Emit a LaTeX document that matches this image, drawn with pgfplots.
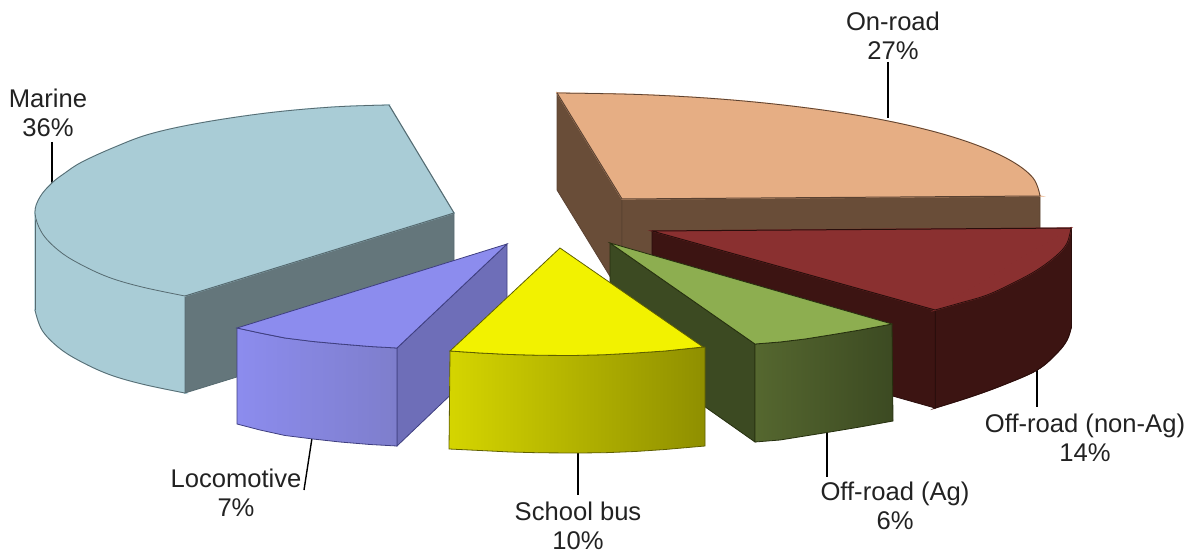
\documentclass[border=0pt]{standalone}
\usepackage{pgfplots}
\pgfplotsset{compat=1.18}
\usepackage{fontspec}
\setmainfont{Liberation Sans}
\definecolor{mT}{HTML}{A9CCD6}\definecolor{mD}{HTML}{64767B}\definecolor{mE}{HTML}{566A70}
\definecolor{oT}{HTML}{E6AE84}\definecolor{oD}{HTML}{694D38}\definecolor{oE}{HTML}{5A4232}
\definecolor{rT}{HTML}{8A3030}\definecolor{rD}{HTML}{3C1412}\definecolor{rE}{HTML}{2A0E0C}
\definecolor{lT}{HTML}{8C8CEE}\definecolor{lG}{HTML}{7E7ECC}\definecolor{lD}{HTML}{6E6EB8}\definecolor{lE}{HTML}{3F3F80}
\definecolor{yT}{HTML}{F2F200}\definecolor{yA}{HTML}{D5D500}\definecolor{yB}{HTML}{8F8F00}\definecolor{yE}{HTML}{5F5F00}
\definecolor{gT}{HTML}{8DAE50}\definecolor{gA}{HTML}{55672F}\definecolor{gB}{HTML}{3C4A22}\definecolor{gE}{HTML}{26300F}
\definecolor{txt}{HTML}{222222}
\begin{document}
\begin{tikzpicture}
\begin{axis}[scale only axis,width=598.5pt,height=277pt,hide axis,
  xmin=0,xmax=1197,ymin=0,ymax=554,y dir=reverse,clip=false]
\path (rel axis cs:0,0) (rel axis cs:1,1);
% leaders
\addplot[black,line width=.7pt] coordinates {(888,62)(888,118)};
\addplot[black,line width=.7pt] coordinates {(52,142)(52,184)};
\addplot[black,line width=.7pt] coordinates {(312,438)(304,490)};
\addplot[black,line width=.7pt] coordinates {(578,452)(578,495)};
\addplot[black,line width=.7pt] coordinates {(827,432)(827,477)};
\addplot[black,line width=.7pt] coordinates {(1037,368)(1037,407)};
% On-road
\addplot[fill=oD,draw=oE,line width=.4pt] coordinates {(557,93)(622,199)(622,296)(557,190)} --cycle;
\addplot[fill=oD,draw=oE,line width=.4pt] coordinates {(622,199)(1040,196)(1040,293)(622,296)} --cycle;
\addplot[smooth,tension=.6,fill=oT,draw=oT,line width=.6pt] coordinates {(557,93)(641,94.6)(722,99.2)(798,106.8)(867,117)(927,129.8)(975,144.5)(1011,160.8)(1033,178)(1040,196)} --cycle;
\addplot[fill=oT,draw=oT,line width=.6pt] coordinates {(557,93)(622,199)(1040,196)} --cycle;
\addplot[smooth,tension=.6,oE,line width=.4pt] coordinates {(557,93)(641,94.6)(722,99.2)(798,106.8)(867,117)(927,129.8)(975,144.5)(1011,160.8)(1033,178)(1040,196)};
\addplot[oE,line width=.5pt] coordinates {(557,93)(622,199)(1040,196)};
% Marine
\addplot[smooth,tension=.6,fill=mT,draw=mT,line width=.6pt] coordinates {(185,393)(142,384)(108,374)(78,360)(58,347)(42,330)(35,310)} --cycle;
\addplot[fill=mT,draw=mT,line width=.6pt] coordinates {(185,296)(35,213)(35,310)(185,393)} --cycle;
\addplot[smooth,tension=.6,mE,line width=.4pt] coordinates {(185,393)(142,384)(108,374)(78,360)(58,347)(42,330)(35,310)};
\addplot[mE,line width=.4pt] coordinates {(35,213)(35,310)};
\addplot[fill=mD,draw=mE,line width=.4pt] coordinates {(185,296)(454,213)(454,310)(185,393)} --cycle;
\addplot[smooth,tension=.6,fill=mT,draw=mT,line width=.6pt] coordinates {(185,296)(142,287)(108,277)(78,263)(58,250)(42,233)(35,213)(40,197)(52,183)(65,173)(82,162)(115,147)(150,134)(200,123)(267,113)(333,107)(389,105)} --cycle;
\addplot[fill=mT,draw=mT,line width=.6pt] coordinates {(185,296)(454,213)(389,105)} --cycle;
\addplot[smooth,tension=.6,mE,line width=.4pt] coordinates {(185,296)(142,287)(108,277)(78,263)(58,250)(42,233)(35,213)(40,197)(52,183)(65,173)(82,162)(115,147)(150,134)(200,123)(267,113)(333,107)(389,105)};
\addplot[mE,line width=.5pt] coordinates {(185,296)(454,213)(389,105)};
% Off-road (non-Ag)
\addplot[fill=rD,draw=rE,line width=.4pt] coordinates {(652,231)(935,310)(935,408)(652,328)} --cycle;
\addplot[smooth,tension=.6,fill=rD,draw=rD,line width=.6pt] coordinates {(935,408)(970,397)(1003,385)(1037,370)(1057,353)(1067,340)(1071,328)} --cycle;
\addplot[fill=rD,draw=rD,line width=.6pt] coordinates {(935,310)(1071,228)(1071,328)(935,408)} --cycle;
\addplot[smooth,tension=.6,rE,line width=.4pt] coordinates {(935,408)(970,397)(1003,385)(1037,370)(1057,353)(1067,340)(1071,328)};
\addplot[rE,line width=.4pt] coordinates {(1071,228)(1071,328)};
\addplot[rE,line width=.4pt] coordinates {(935,310)(935,408)};
\addplot[smooth,tension=.6,fill=rT,draw=rT,line width=.6pt] coordinates {(935,310)(960,303)(987,295)(1013,283)(1037,270)(1057,255)(1067,243)(1071,228)} --cycle;
\addplot[fill=rT,draw=rT,line width=.6pt] coordinates {(652,231)(935,310)(1071,228)} --cycle;
\addplot[smooth,tension=.6,rE,line width=.4pt] coordinates {(935,310)(960,303)(987,295)(1013,283)(1037,270)(1057,255)(1067,243)(1071,228)};
\addplot[rE,line width=.5pt] coordinates {(935,310)(652,231)(1071,228)};
% Locomotive
\addplot[fill=lD,draw=lE,line width=.4pt] coordinates {(397,348)(507,244)(507,341)(397,446)} --cycle;
\addplot[left color=lT,right color=lG,draw=lE,line width=.4pt] coordinates {(237,328)(260,333)(285,338)(313,341.5)(340,344)(370,346.5)(397,348)(397,446)(370,444.5)(340,442)(313,439)(285,435.5)(260,430)(237,424)} --cycle;
\addplot[fill=lT,draw=lE,line width=.4pt] coordinates {(507,244)(397,348)(370,346.5)(340,344)(313,341.5)(285,338)(260,333)(237,328)} --cycle;
% Off-road (Ag)
\addplot[fill=gB,draw=gE,line width=.4pt] coordinates {(610,243)(755,344)(755,442)(610,340)} --cycle;
\addplot[left color=gA,right color=gB,draw=gE,line width=.4pt] coordinates {(755,344)(780,342)(805,339)(830,335)(860,330)(892,324)(893,421)(860,427)(830,432)(805,436)(780,440)(755,442)} --cycle;
\addplot[fill=gT,draw=gE,line width=.4pt] coordinates {(610,243)(755,344)(780,342)(805,339)(830,335)(860,330)(892,324)} --cycle;
% School bus
\addplot[left color=yA,right color=yB,draw=yE,line width=.4pt] coordinates {(450,351)(480,353)(510,354.5)(540,355.3)(573,355.5)(605,354.7)(635,353)(665,351)(705,347)(705,446)(665,449.5)(635,451.5)(605,452.7)(578,453)(540,452.8)(510,452)(480,450.5)(449,449)} --cycle;
\addplot[fill=yT,draw=yE,line width=.4pt] coordinates {(560,248)(450,351)(480,353)(510,354.5)(540,355.3)(573,355.5)(605,354.7)(635,353)(665,351)(703,347)} --cycle;
% labels
\node[align=center,text=txt,font=\fontsize{12.8}{14.6}\selectfont] at (axis cs:893,35.5) {On-road\\27\%};
\node[align=center,text=txt,font=\fontsize{12.8}{14.6}\selectfont] at (axis cs:48,113) {Marine\\36\%};
\node[align=center,text=txt,font=\fontsize{12.8}{14.6}\selectfont] at (axis cs:236,492.5) {Locomotive\\7\%};
\node[align=center,text=txt,font=\fontsize{12.8}{14.6}\selectfont] at (axis cs:578,526) {School bus\\10\%};
\node[align=center,text=txt,font=\fontsize{12.8}{14.6}\selectfont] at (axis cs:895,506) {Off-road (Ag)\\6\%};
\node[align=center,text=txt,font=\fontsize{12.8}{14.6}\selectfont] at (axis cs:1085,438) {Off-road (non-Ag)\\14\%};
\end{axis}
\end{tikzpicture}
\end{document}
